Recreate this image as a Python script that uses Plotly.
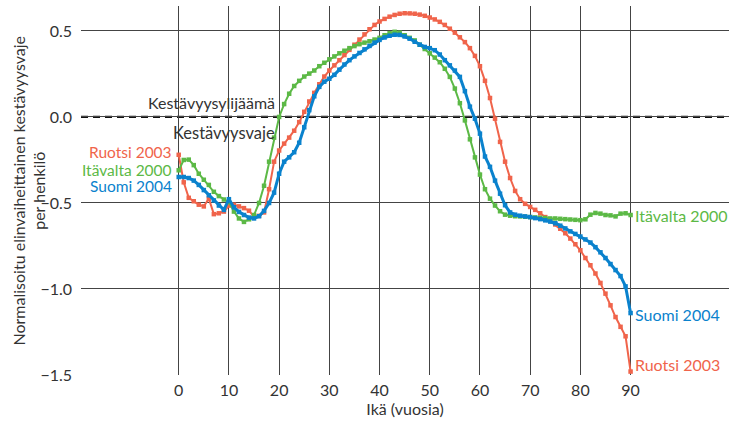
import plotly.graph_objects as go

ages = list(range(0, 91))

ruotsi_2003 = [
    -0.22, -0.38, -0.47, -0.49, -0.51, -0.52, -0.475, -0.565, -0.56, -0.55,
    -0.515, -0.51, -0.52, -0.53, -0.545, -0.58, -0.575, -0.555, -0.42, -0.26,
    -0.195, -0.155, -0.12, -0.08, -0.03, 0.03, 0.09, 0.14, 0.19, 0.235,
    0.27, 0.30, 0.33, 0.36, 0.39, 0.42, 0.45, 0.48, 0.51, 0.535,
    0.555, 0.57, 0.583, 0.593, 0.60, 0.603, 0.602, 0.60, 0.595, 0.588,
    0.578, 0.567, 0.553, 0.535, 0.513, 0.49, 0.463, 0.435, 0.40, 0.355,
    0.295, 0.21, 0.11, -0.01, -0.145, -0.26, -0.355, -0.43, -0.478, -0.505,
    -0.523, -0.54, -0.56, -0.582, -0.605, -0.625, -0.65, -0.676, -0.707, -0.74,
    -0.775, -0.82, -0.862, -0.91, -0.965, -1.027, -1.095, -1.163, -1.22, -1.275,
    -1.48,
]

itavalta_2000 = [
    -0.31, -0.25, -0.248, -0.28, -0.33, -0.365, -0.395, -0.435, -0.46, -0.48,
    -0.495, -0.55, -0.59, -0.61, -0.595, -0.57, -0.50, -0.40, -0.26, -0.12,
    0.0, 0.075, 0.135, 0.18, 0.21, 0.235, 0.252, 0.27, 0.295, 0.315,
    0.335, 0.352, 0.37, 0.385, 0.40, 0.412, 0.423, 0.432, 0.44, 0.45,
    0.46, 0.475, 0.487, 0.495, 0.49, 0.475, 0.46, 0.445, 0.42, 0.395,
    0.37, 0.345, 0.318, 0.28, 0.233, 0.165, 0.08, -0.02, -0.13, -0.235,
    -0.335, -0.42, -0.475, -0.515, -0.548, -0.568, -0.574, -0.577, -0.578, -0.58,
    -0.582, -0.584, -0.586, -0.588, -0.59, -0.59, -0.592, -0.594, -0.596, -0.598,
    -0.60, -0.595, -0.568, -0.558, -0.562, -0.57, -0.572, -0.578, -0.562, -0.56,
    -0.57,
]

suomi_2004 = [
    -0.349, -0.349, -0.355, -0.37, -0.395, -0.425, -0.455, -0.485, -0.515, -0.54,
    -0.478, -0.525, -0.552, -0.57, -0.585, -0.59, -0.577, -0.546, -0.50, -0.44,
    -0.33, -0.26, -0.235, -0.205, -0.15, -0.06, 0.04, 0.12, 0.175, 0.205,
    0.222, 0.245, 0.275, 0.305, 0.33, 0.352, 0.372, 0.393, 0.413, 0.432,
    0.448, 0.462, 0.472, 0.478, 0.477, 0.468, 0.455, 0.437, 0.42, 0.407,
    0.40, 0.388, 0.363, 0.33, 0.30, 0.27, 0.233, 0.15, 0.06, -0.01,
    -0.097, -0.23, -0.29, -0.37, -0.446, -0.513, -0.555, -0.568, -0.574, -0.578,
    -0.582, -0.588, -0.594, -0.601, -0.608, -0.618, -0.632, -0.648, -0.665, -0.68,
    -0.695, -0.712, -0.73, -0.757, -0.787, -0.82, -0.855, -0.89, -0.925, -0.985,
    -1.14,
]

x_ticks = [0, 10, 20, 30, 40, 50, 60, 70, 80, 90]
y_ticks = [0.5, 0.0, -0.5, -1.0, -1.5]
y_ticktext = ["0.5", "0.0", "\u22120.5", "\u22121.0", "\u22121.5"]

series = [
    ("Ruotsi 2003", ruotsi_2003, "#F0644B", 2.0, -0.205, -1.44),
    ("Itävalta 2000", itavalta_2000, "#5CB946", 2.0, -0.31, -0.572),
    ("Suomi 2004", suomi_2004, "#0A82CD", 3.0, -0.40, -1.148),
]

FONT = "Lato"
TXT = "#333333"
GRID = "#444444"

fig = go.Figure()
for name, vals, color, lw, ly_left, ly_right in series:
    fig.add_trace(go.Scatter(
        x=ages, y=vals, mode="lines+markers", name=name,
        line=dict(color=color, width=lw),
        marker=dict(symbol="square", size=4.5, color=color),
        showlegend=False, hoverinfo="skip",
    ))

annotations = []
for name, vals, color, lw, ly_left, ly_right in series:
    annotations.append(dict(x=-1.0, y=ly_left, xref="x", yref="y", text=name,
                            showarrow=False, xanchor="right", yanchor="middle",
                            font=dict(family=FONT, size=15.5, color=color)))
    annotations.append(dict(x=90.5, y=ly_right, xref="x", yref="y", text=name,
                            showarrow=False, xanchor="left", yanchor="middle",
                            font=dict(family=FONT, size=16, color=color)))

annotations.append(dict(x=19.6, y=0.0, xref="x", yref="y", text="Kestävyysylijäämä",
                        showarrow=False, xanchor="right", yanchor="bottom", yshift=3,
                        font=dict(family=FONT, size=16, color=TXT)))
annotations.append(dict(x=19.6, y=0.0, xref="x", yref="y", text="Kestävyysvaje",
                        showarrow=False, xanchor="right", yanchor="top", yshift=-4,
                        font=dict(family=FONT, size=16.5, color=TXT)))

# y-axis title as a rotated annotation for exact placement
annotations.append(dict(x=0, y=0.5, xref="paper", yref="paper", xshift=-53,
                        text="Normalisoitu elinvaiheittainen kestävyysvaje<br>per henkilö",
                        textangle=-90, showarrow=False, xanchor="center", yanchor="middle",
                        font=dict(family=FONT, size=16, color=TXT)))

fig.update_layout(
    width=729, height=421,
    margin=dict(l=81, r=0, t=6, b=46),
    paper_bgcolor="white", plot_bgcolor="white",
    font=dict(family=FONT, size=15, color=TXT),
    annotations=annotations,
    shapes=[dict(type="line", xref="paper", yref="y", x0=0, x1=1, y0=0, y1=0,
                 line=dict(color="#111111", width=2.3, dash="7px,5px"), layer="below")],
)

fig.update_xaxes(
    range=[-19.46, 109.6], tickvals=x_ticks, showgrid=True, gridcolor=GRID, gridwidth=1.3,
    zeroline=False, showline=False, ticks="", ticklabelstandoff=4, automargin=False,
    tickfont=dict(family=FONT, size=16, color=TXT),
    title=dict(text="Ikä (vuosia)", font=dict(family=FONT, size=16, color=TXT), standoff=2),
)
fig.update_yaxes(
    range=[-1.5, 0.645], tickvals=y_ticks, ticktext=y_ticktext, showgrid=True,
    gridcolor=GRID, gridwidth=1.3, zeroline=False, showline=False, ticks="",
    ticklabelstandoff=8, automargin=False, tickfont=dict(family=FONT, size=16, color=TXT),
)

fig.write_html("out.html", config={"displayModeBar": False},
               post_script="document.body.style.margin='0px';document.body.style.overflow='hidden';")
